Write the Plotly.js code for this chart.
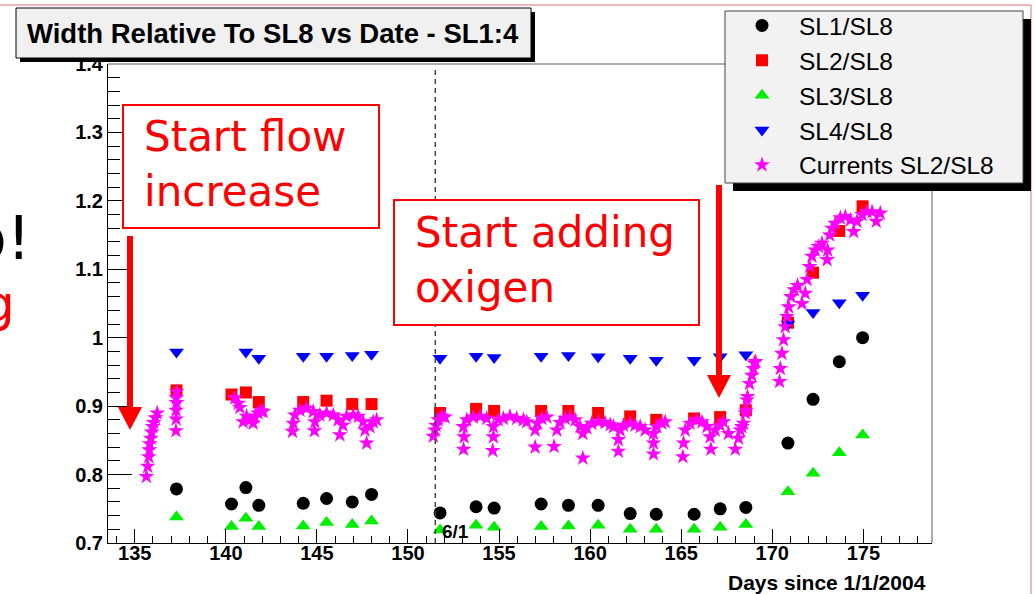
<!DOCTYPE html>
<html>
<head>
<meta charset="utf-8">
<script src="https://cdn.plot.ly/plotly-3.0.1.min.js"></script>
<style>
  html, body { margin: 0; padding: 0; background: #ffffff; }
  #chart { width: 1034px; height: 594px; }
</style>
</head>
<body>
<div id="chart"></div>
<script>
// Measurement days (days since 1/1/2004) shared by the four width ratios
const days = [137.29, 140.31, 141.10, 141.81, 144.25, 145.53, 146.94, 148.00,
  151.76, 153.74, 154.73, 157.31, 158.81, 160.44, 162.20, 163.63, 165.71, 167.14, 168.55,
  170.86, 172.24, 173.68, 174.96];

const sl1 = [0.779, 0.757, 0.781, 0.755, 0.758, 0.765, 0.760, 0.771,
  0.744, 0.753, 0.751, 0.757, 0.755, 0.755, 0.743, 0.742, 0.742, 0.750, 0.752,
  0.846, 0.910, 0.965, 1.000];
const sl2 = [0.923, 0.917, 0.920, 0.906, 0.906, 0.908, 0.903, 0.903,
  0.890, 0.896, 0.893, 0.893, 0.893, 0.890, 0.885, 0.880, 0.882, 0.884, 0.894,
  1.022, 1.095, 1.156, 1.192];
const sl3 = [0.738, 0.724, 0.736, 0.724, 0.725, 0.730, 0.727, 0.732,
  0.719, 0.726, 0.723, 0.724, 0.725, 0.726, 0.720, 0.720, 0.720, 0.723, 0.727,
  0.775, 0.802, 0.832, 0.858];
const sl4 = [0.979, null, 0.979, 0.970, 0.973, 0.973, 0.974, 0.976,
  0.970, 0.973, 0.971, 0.973, 0.974, 0.972, 0.970, 0.967, 0.967, 0.972, 0.975,
  1.020, 1.037, 1.051, 1.062];

// SL2/SL8 ratio derived from chamber currents
const currentDays = [
  135.64, 135.71, 135.77, 135.80, 135.82, 135.88, 135.93, 135.99, 136.04, 136.13, 136.23,
  137.30, 137.28, 137.29, 137.27, 137.27, 137.26,
  140.49, 140.68, 140.77, 140.95, 141.14, 141.32, 141.50, 141.59, 141.77, 141.92, 142.05,
  143.66, 143.70, 143.79, 144.07, 144.43, 144.80, 144.89, 144.86, 145.16, 145.53, 145.90,
  146.17, 146.26, 146.43, 146.63, 146.99, 147.27, 147.54, 147.64, 147.73, 147.91, 148.09, 148.28,
  151.39, 151.48, 151.54, 151.66, 151.85, 152.03,
  153.04, 153.08, 153.05, 153.23, 153.59, 153.96, 154.32, 154.69, 154.69, 154.65, 154.96,
  155.24, 155.60, 155.97, 156.34, 156.52,
  156.98, 156.98, 157.10, 157.35, 157.62, 158.02, 158.17, 158.35, 158.63, 158.90, 159.18,
  159.45, 159.60, 159.60, 159.82, 160.09, 160.46, 160.82, 161.10, 161.28,
  161.55, 161.55, 161.65, 161.83, 162.20, 162.47, 162.75, 163.02, 163.48, 163.48, 163.48,
  163.66, 163.94, 164.12,
  165.09, 165.13, 165.22, 165.49, 165.86, 166.14, 166.41, 166.59, 166.63, 166.87, 167.14,
  167.32, 167.60,
  167.97, 168.15, 168.24, 168.33, 168.42, 168.52, 168.57, 168.61, 168.64, 168.75, 168.88,
  168.96, 169.01, 169.08,
  170.40, 170.44, 170.53, 170.62, 170.71, 170.81, 170.90, 171.03, 171.21, 171.39, 171.63,
  171.81, 171.91, 172.05, 172.18, 172.36, 172.54, 172.73, 173.01, 173.04, 173.15, 173.28,
  173.46, 173.74, 174.01, 174.29, 174.47, 174.65, 174.93, 175.20, 175.48, 175.71, 175.93];
const currentRatio = [
  0.797, 0.812, 0.826, 0.836, 0.845, 0.853, 0.862, 0.870, 0.876, 0.883, 0.890,
  0.921, 0.912, 0.905, 0.894, 0.881, 0.864,
  0.912, 0.904, 0.898, 0.877, 0.885, 0.880, 0.875, 0.884, 0.890, 0.893, 0.892,
  0.863, 0.875, 0.887, 0.894, 0.897, 0.892, 0.877, 0.864, 0.887, 0.890, 0.887,
  0.880, 0.858, 0.872, 0.885, 0.887, 0.885, 0.877, 0.865, 0.846, 0.870, 0.877, 0.880,
  0.856, 0.865, 0.872, 0.880, 0.885, 0.884,
  0.870, 0.855, 0.837, 0.880, 0.884, 0.885, 0.882, 0.870, 0.855, 0.835, 0.880,
  0.882, 0.885, 0.882, 0.880, 0.877,
  0.840, 0.865, 0.875, 0.882, 0.884, 0.841, 0.865, 0.876, 0.882, 0.884, 0.880,
  0.870, 0.860, 0.824, 0.868, 0.875, 0.877, 0.876, 0.873, 0.870,
  0.851, 0.834, 0.865, 0.872, 0.875, 0.872, 0.870, 0.865, 0.860, 0.846, 0.830,
  0.870, 0.875, 0.877,
  0.826, 0.846, 0.865, 0.875, 0.880, 0.877, 0.870, 0.855, 0.837, 0.865, 0.872,
  0.877, 0.860,
  0.837, 0.853, 0.865, 0.870, 0.875, 0.890, 0.894, 0.909, 0.914, 0.933, 0.945,
  0.955, 0.963, 0.965,
  0.936, 0.955, 0.977, 0.997, 1.016, 1.031, 1.045, 1.060, 1.070, 1.076, 1.050,
  1.065, 1.085, 1.104, 1.119, 1.128, 1.133, 1.138, 1.114, 1.128, 1.150, 1.160,
  1.167, 1.175, 1.177, 1.172, 1.155, 1.170, 1.180, 1.184, 1.184, 1.170, 1.182];

const seriesNames = ['SL1/SL8', 'SL2/SL8', 'SL3/SL8', 'SL4/SL8', 'Currents SL2/SL8'];
const xTitle = 'Days since 1/1/2004';
const chartTitle = 'Width Relative To SL8 vs Date - SL1:4';
const june1 = 151.5;   // 6/1 marker line

// Plot-area box in page pixels, used to place decorations in paper units
const PL = 108, PR = 932, PT = 64, PB = 543;
const px = x => (x - PL) / (PR - PL);
const py = y => (PB - y) / (PB - PT);

const traces = [
  { x: days, y: sl1, name: seriesNames[0], mode: 'markers', type: 'scatter',
    marker: { symbol: 'circle', size: 13, color: '#000000' } },
  { x: days, y: sl2, name: seriesNames[1], mode: 'markers', type: 'scatter',
    marker: { symbol: 'square', size: 12, color: '#ff0000' } },
  { x: days, y: sl3, name: seriesNames[2], mode: 'markers', type: 'scatter',
    marker: { symbol: 'triangle-up', size: 13, color: '#00ee00' } },
  { x: days, y: sl4, name: seriesNames[3], mode: 'markers', type: 'scatter',
    marker: { symbol: 'triangle-down', size: 13, color: '#0000ff' } },
  { x: currentDays, y: currentRatio, name: seriesNames[4], mode: 'markers', type: 'scatter',
    marker: { symbol: 'star', size: 12, color: '#ff00ff' } }
];

const red = '#ff0000';
const shapes = [
  // frame top and right
  { type: 'line', xref: 'paper', yref: 'paper', x0: 0, x1: 1, y0: 1, y1: 1,
    line: { color: '#6a5a5a', width: 1 } },
  { type: 'line', xref: 'paper', yref: 'paper', x0: 1, x1: 1, y0: 0, y1: 1,
    line: { color: '#6a5a5a', width: 1 } },
  // 6/1 marker
  { type: 'line', xref: 'x', yref: 'paper', x0: june1, x1: june1, y0: 0, y1: 0.99,
    line: { color: '#444444', width: 1.5, dash: '5px,4px' } },
  // page border
  { type: 'line', xref: 'paper', yref: 'paper', x0: px(0), x1: px(1031), y0: py(5), y1: py(5),
    line: { color: '#e07070', width: 1 } },
  { type: 'line', xref: 'paper', yref: 'paper', x0: px(1031), x1: px(1031), y0: py(5), y1: py(594),
    line: { color: '#e07070', width: 1 } },
  // title box with shadow
  { type: 'rect', xref: 'paper', yref: 'paper', x0: px(20), x1: px(535), y0: py(12), y1: py(62),
    fillcolor: '#000000', line: { width: 0 } },
  { type: 'rect', xref: 'paper', yref: 'paper', x0: px(16), x1: px(531), y0: py(8), y1: py(58),
    fillcolor: '#f0f0f0', line: { color: '#000000', width: 1 } },
  // legend box with shadow
  { type: 'rect', xref: 'paper', yref: 'paper', x0: px(733), x1: px(1031), y0: py(19), y1: py(191),
    fillcolor: '#000000', line: { width: 0 } },
  { type: 'rect', xref: 'paper', yref: 'paper', x0: px(725), x1: px(1023), y0: py(11), y1: py(183),
    fillcolor: '#f2f2f2', line: { color: '#444444', width: 1 } },
  // note boxes
  { type: 'rect', xref: 'paper', yref: 'paper', x0: px(123), x1: px(379), y0: py(105), y1: py(228),
    fillcolor: '#ffffff', line: { color: red, width: 2 } },
  { type: 'rect', xref: 'paper', yref: 'paper', x0: px(394), x1: px(699), y0: py(200), y1: py(325),
    fillcolor: '#ffffff', line: { color: red, width: 2 } },
  // arrows
  { type: 'line', xref: 'paper', yref: 'paper', x0: px(130), x1: px(130), y0: py(236), y1: py(408),
    line: { color: red, width: 6 } },
  { type: 'path', xref: 'paper', yref: 'paper',
    path: `M ${px(118)} ${py(407)} L ${px(142)} ${py(407)} L ${px(130)} ${py(430)} Z`,
    fillcolor: red, line: { width: 0 } },
  { type: 'line', xref: 'paper', yref: 'paper', x0: px(719), x1: px(719), y0: py(185), y1: py(376),
    line: { color: red, width: 6 } },
  { type: 'path', xref: 'paper', yref: 'paper',
    path: `M ${px(707)} ${py(375)} L ${px(731)} ${py(375)} L ${px(719)} ${py(398)} Z`,
    fillcolor: red, line: { width: 0 } }
];

const noteFont = { family: 'DejaVu Sans', size: 42, color: red };
const annotations = [
  { text: chartTitle, xref: 'paper', yref: 'paper', x: px(273), y: py(33),
    xanchor: 'center', yanchor: 'middle', showarrow: false,
    font: { family: 'Liberation Sans', size: 27.5, weight: 'bold', color: '#000000' } },
  { text: xTitle, xref: 'paper', yref: 'paper', x: px(928), y: py(582),
    xanchor: 'right', yanchor: 'middle', showarrow: false,
    font: { family: 'Liberation Sans', size: 21, weight: 'bold', color: '#000000' } },
  { text: '6/1', xref: 'x', yref: 'paper', x: june1, y: py(531), xshift: 5,
    xanchor: 'left', yanchor: 'middle', showarrow: false,
    font: { family: 'Liberation Sans', size: 19, weight: 'bold', color: '#000000' } },
  { text: 'Start flow<br>increase', xref: 'paper', yref: 'paper', x: px(142), y: py(110),
    xanchor: 'left', yanchor: 'top', align: 'left', showarrow: false, font: noteFont },
  { text: 'Start adding<br>oxigen', xref: 'paper', yref: 'paper', x: px(413), y: py(206),
    xanchor: 'left', yanchor: 'top', align: 'left', showarrow: false, font: noteFont },
  { text: 'o!', xref: 'paper', yref: 'paper', x: px(33), y: py(238),
    xanchor: 'right', yanchor: 'middle', showarrow: false,
    font: { family: 'DejaVu Sans', size: 60, color: '#000000' } },
  { text: 'g', xref: 'paper', yref: 'paper', x: px(17), y: py(304),
    xanchor: 'right', yanchor: 'middle', showarrow: false,
    font: { family: 'DejaVu Sans', size: 50, color: red } }
];

const tickFont = { family: 'Liberation Sans', size: 20, weight: 'bold', color: '#000000' };
const layout = {
  width: 1034, height: 594,
  margin: { l: PL, r: 1034 - PR, t: PT, b: 594 - PB, pad: 0, autoexpand: false },
  paper_bgcolor: '#ffffff', plot_bgcolor: '#ffffff',
  showlegend: true,
  legend: {
    x: px(725), y: py(3), xanchor: 'left', yanchor: 'top',
    bgcolor: 'rgba(0,0,0,0)', borderwidth: 0,
    font: { family: 'Liberation Sans', size: 24.5, color: '#000000' },
    itemwidth: 64, tracegroupgap: 0
  },
  xaxis: {
    range: [133.53, 178.77], showgrid: false, zeroline: false,
    showline: true, linecolor: '#000000', linewidth: 1,
    ticks: 'inside', ticklen: 14, tickwidth: 1, tickcolor: '#000000',
    tick0: 135, dtick: 5, tickfont: tickFont, ticklabelstandoff: -8,
    minor: { ticks: 'inside', ticklen: 7, dtick: 1, tickcolor: '#000000', showgrid: false }
  },
  yaxis: {
    range: [0.7, 1.4], showgrid: false, zeroline: false,
    showline: true, linecolor: '#000000', linewidth: 1,
    ticks: 'inside', ticklen: 24, tickwidth: 1, tickcolor: '#000000',
    tick0: 0.7, dtick: 0.1, tickfont: tickFont,
    minor: { ticks: 'inside', ticklen: 12, dtick: 0.02, tickcolor: '#000000', showgrid: false }
  },
  shapes: shapes,
  annotations: annotations
};

Plotly.newPlot('chart', traces, layout, { displayModeBar: false, staticPlot: true });
</script>
</body>
</html>
